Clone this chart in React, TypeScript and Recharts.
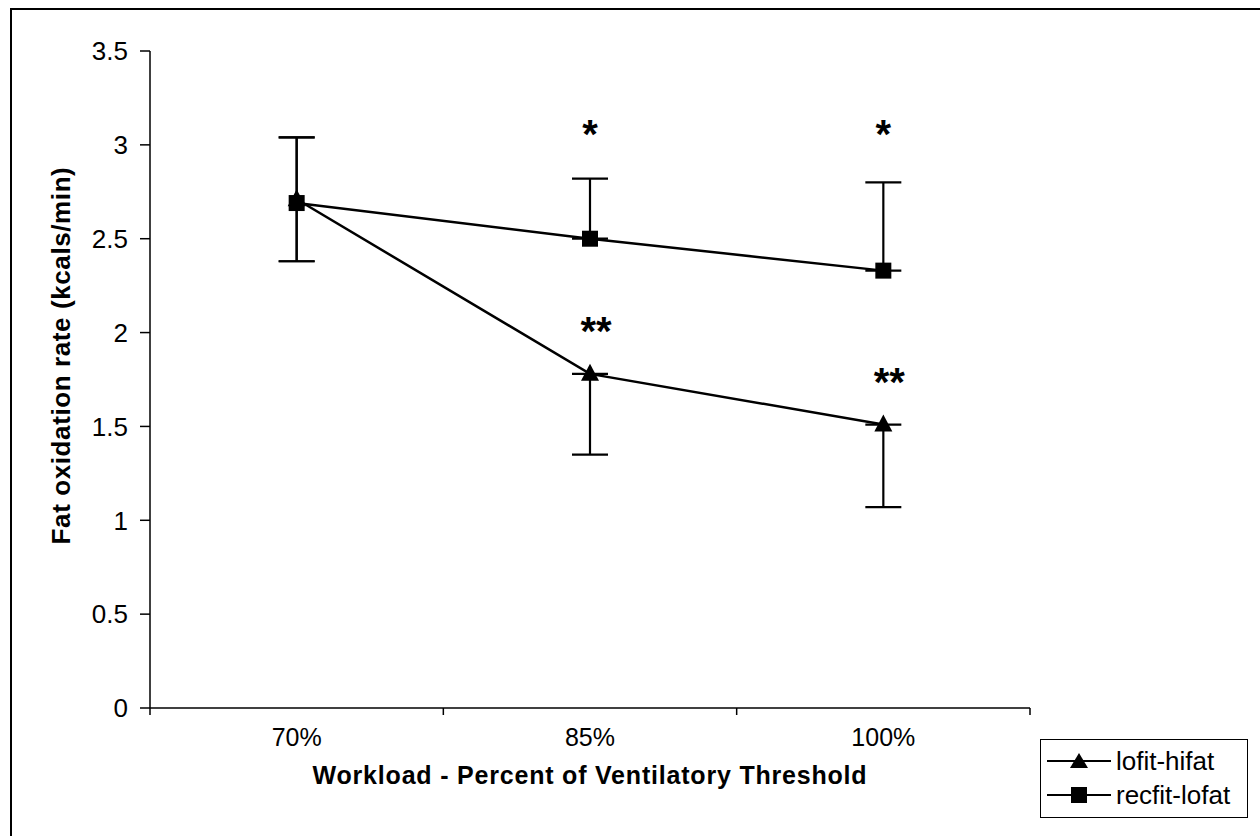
import { ComposedChart, Line, XAxis, YAxis, ErrorBar, Label } from "recharts";

const categories = ["70%", "85%", "100%"];
const lofitHifat = [2.71, 1.78, 1.51];
const lofitErr: [number, number][] = [
  [0.33, 0.33],
  [0.43, 0],
  [0.44, 0],
];
const recfitLofat = [2.69, 2.5, 2.33];
const recfitErr: [number, number][] = [
  [0.31, 0.35],
  [0, 0.32],
  [0, 0.47],
];
const singleStar = [null, 3.08, 3.08];
const doubleStar = [null, 2.03, 1.76];
const yTicks = [0, 0.5, 1, 1.5, 2, 2.5, 3, 3.5];
const xTicks = [0, 0.5, 1, 1.5, 2, 2.5, 3];

const data = categories.map((c, i) => ({
  x: i + 0.5,
  name: c,
  lofit: lofitHifat[i],
  lofitErr: lofitErr[i],
  recfit: recfitLofat[i],
  recfitErr: recfitErr[i],
  star1: singleStar[i],
  star2: doubleStar[i],
}));

const FONT = "Arial, 'Liberation Sans', sans-serif";

const Triangle = (props: any) => {
  const { cx, cy } = props;
  if (cx == null || cy == null) return <g key={props.key} />;
  return (
    <polygon
      key={props.key}
      points={`${cx},${cy - 10} ${cx - 9},${cy + 7} ${cx + 9},${cy + 7}`}
      fill="#000"
    />
  );
};

const Square = (props: any) => {
  const { cx, cy } = props;
  if (cx == null || cy == null) return <g key={props.key} />;
  return <rect key={props.key} x={cx - 8} y={cy - 8} width={16} height={16} fill="#000" />;
};

const starDot = (text: string) => (props: any) => {
  const { cx, cy, value } = props;
  if (cx == null || cy == null || value == null) return <g key={props.key} />;
  return (
    <text
      key={props.key}
      x={cx + (text.length > 1 ? 6 : 0)}
      y={cy + 18}
      textAnchor="middle"
      fontFamily={FONT}
      fontWeight="bold"
      fontSize={40}
      fill="#000"
    >
      {text}
    </text>
  );
};

const XTick = (props: any) => {
  const { x, y, payload } = props;
  const v = payload.value;
  if (Number.isInteger(v)) {
    return <line x1={x} y1={y - 8} x2={x} y2={y - 1} stroke="#000" strokeWidth={1.5} />;
  }
  const idx = Math.floor(v);
  return (
    <text x={x} y={y + 30} textAnchor="middle" fontFamily={FONT} fontSize={25} fill="#000">
      {categories[idx]}
    </text>
  );
};

const YLabel = (props: any) => {
  const { viewBox } = props;
  const cx = viewBox.x - 27;
  const cy = viewBox.y + viewBox.height / 2 - 24;
  return (
    <text
      x={cx}
      y={cy}
      transform={`rotate(-90, ${cx}, ${cy})`}
      textAnchor="middle"
      dominantBaseline="central"
      fontFamily={FONT}
      fontSize={26}
      fontWeight="bold"
      letterSpacing={0.6}
      fill="#000"
    >
      Fat oxidation rate (kcals/min)
    </text>
  );
};

function LegendBox() {
  const items = [
    { label: "lofit-hifat", shape: "tri" },
    { label: "recfit-lofat", shape: "sq" },
  ];
  return (
    <div
      style={{
        position: "absolute",
        left: 1040,
        top: 739,
        width: 208,
        height: 79,
        border: "1.5px solid #000",
        boxSizing: "border-box",
        fontFamily: FONT,
        fontSize: 26,
        paddingTop: 4,
      }}
    >
      {items.map((it) => (
        <div key={it.label} style={{ display: "flex", alignItems: "center", height: 34 }}>
          <svg width={66} height={22} style={{ marginLeft: 6, flex: "none" }}>
            <line x1={0} y1={11} x2={64} y2={11} stroke="#000" strokeWidth={2} />
            {it.shape === "tri" ? (
              <polygon points="32,3 23,18 41,18" fill="#000" />
            ) : (
              <rect x={24} y={3} width={16} height={16} fill="#000" />
            )}
          </svg>
          <span style={{ marginLeft: 3, whiteSpace: "nowrap" }}>{it.label}</span>
        </div>
      ))}
    </div>
  );
}

export default function App() {
  return (
    <div style={{ position: "absolute", left: 0, top: 0, width: 1260, height: 836, background: "#fff" }}>
      <div style={{ position: "absolute", left: 10, top: 8, width: 1250, height: 828, borderTop: "2px solid #000", borderLeft: "2px solid #000" }} />
      <div style={{ position: "absolute", left: 0, top: 0 }}>
        <ComposedChart width={1260} height={836} data={data} margin={{ top: 51, right: 230, bottom: 88, left: 88 }}>
          <XAxis
            dataKey="x"
            type="number"
            domain={[0, 3]}
            ticks={xTicks}
            interval={0}
            tickLine={false}
            tick={<XTick />}
            axisLine={{ stroke: "#000", strokeWidth: 1.5 }}
            height={40}
          >
            <Label
              value="Workload - Percent of Ventilatory Threshold"
              position="insideBottom"
              offset={-36}
              style={{ fontFamily: FONT, fontSize: 25, fontWeight: "bold", fill: "#000", letterSpacing: 0.8 }}
            />
          </XAxis>
          <YAxis
            domain={[0, 3.5]}
            ticks={yTicks}
            interval={0}
            width={62}
            tickSize={10}
            tickMargin={12}
            tickFormatter={(v: number) => String(v)}
            tick={{ fontFamily: FONT, fontSize: 26, fill: "#000" }}
            tickLine={{ stroke: "#000", strokeWidth: 1.5 }}
            axisLine={{ stroke: "#000", strokeWidth: 1.5 }}
          >
            <Label content={<YLabel />} />
          </YAxis>
          <Line
            dataKey="lofit"
            stroke="#000"
            strokeWidth={2.5}
            dot={<Triangle />}
            isAnimationActive={false}
          >
            <ErrorBar dataKey="lofitErr" width={18} stroke="#000" strokeWidth={2.2} direction="y" />
          </Line>
          <Line
            dataKey="recfit"
            stroke="#000"
            strokeWidth={2.5}
            dot={<Square />}
            isAnimationActive={false}
          >
            <ErrorBar dataKey="recfitErr" width={18} stroke="#000" strokeWidth={2.2} direction="y" />
          </Line>
          <Line dataKey="star1" stroke="none" dot={starDot("*")} activeDot={false} isAnimationActive={false} />
          <Line dataKey="star2" stroke="none" dot={starDot("**")} activeDot={false} isAnimationActive={false} />
        </ComposedChart>
      </div>
      <LegendBox />
    </div>
  );
}
